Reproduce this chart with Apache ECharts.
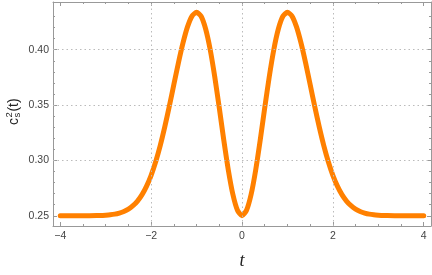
<!DOCTYPE html>
<html>
<head>
<meta charset="utf-8">
<script src="https://cdn.jsdelivr.net/npm/echarts@6/dist/echarts.min.js"></script>
<style>
html,body{margin:0;padding:0;background:#fff;}
#chart{width:432px;height:275px;}
</style>
</head>
<body>
<div id="chart"></div>
<script>
// ---- data ----
var tValues = [-4, -3.5, -3.2, -3.0, -2.9, -2.8, -2.7, -2.6, -2.5, -2.4, -2.3, -2.2, -2.1, -2.0,
  -1.9, -1.8, -1.7, -1.6, -1.5, -1.4, -1.3, -1.2, -1.1, -1.0, -0.9, -0.8, -0.7, -0.6, -0.5,
  -0.4, -0.3, -0.2, -0.1, 0, 0.1, 0.2, 0.3, 0.4, 0.5, 0.6, 0.7, 0.8, 0.9, 1.0, 1.1, 1.2, 1.3,
  1.4, 1.5, 1.6, 1.7, 1.8, 1.9, 2.0, 2.1, 2.2, 2.3, 2.4, 2.5, 2.6, 2.7, 2.8, 2.9, 3.0, 3.2, 3.5, 4];
var csValues = [0.2500, 0.2500, 0.2502, 0.2506, 0.2509, 0.2515, 0.2525, 0.2539, 0.2560, 0.2591,
  0.2633, 0.2691, 0.2768, 0.2866, 0.2988, 0.3134, 0.3303, 0.3489, 0.3686, 0.3881, 0.4059,
  0.4206, 0.4304, 0.4339, 0.4302, 0.4187, 0.4001, 0.3756, 0.3474, 0.3182, 0.2911, 0.2692,
  0.2550, 0.2500, 0.2550, 0.2692, 0.2911, 0.3182, 0.3474, 0.3756, 0.4001, 0.4187, 0.4302,
  0.4339, 0.4304, 0.4206, 0.4059, 0.3881, 0.3686, 0.3489, 0.3303, 0.3134, 0.2988, 0.2866,
  0.2768, 0.2691, 0.2633, 0.2591, 0.2560, 0.2539, 0.2525, 0.2515, 0.2509, 0.2506, 0.2502,
  0.2500, 0.2500];
var xTicks = [-4, -2, 0, 2, 4];
var xMinorTicks = [-3.5, -3, -2.5, -1.5, -1, -0.5, 0.5, 1, 1.5, 2.5, 3, 3.5];
var yTicks = [0.25, 0.30, 0.35, 0.40];
var yMinorTicks = [0.26, 0.27, 0.28, 0.29, 0.31, 0.32, 0.33, 0.34, 0.36, 0.37, 0.38, 0.39, 0.41, 0.42, 0.43];
var xGrid = [-2, 0, 2];
var yGrid = [0.30, 0.35, 0.40];
var xName = 't';

// ---- chart ----
var X_MIN = -4.16, X_MAX = 4.16, Y_MIN = 0.2408, Y_MAX = 0.4431;
var frameColor = '#999999';
var labelColor = '#444444';
var curveColor = '#ff8000';
var fontSans = 'Liberation Sans, Arial, sans-serif';

function fmtNum(v, d) {
  var s = Math.abs(v).toFixed(d);
  return (v < -1e-9 ? '\u2212' : '') + s;
}

function xAx(pos, vals, len, withLabels, withLine, extra) {
  var a = {
    type: 'value', position: pos, min: X_MIN, max: X_MAX, gridIndex: 0,
    axisLine: {show: withLine, onZero: false, lineStyle: {color: frameColor, width: 1}},
    axisTick: {show: true, inside: true, length: len, customValues: vals, lineStyle: {color: frameColor, width: 1}},
    axisLabel: withLabels ? {show: true, customValues: vals, margin: 5, color: labelColor, fontSize: 10.5, fontFamily: fontSans,
      formatter: function (v) { return fmtNum(v, 0); }} : {show: false},
    splitLine: {show: false}
  };
  if (extra) for (var k in extra) a[k] = extra[k];
  return a;
}
function yAx(pos, vals, len, withLabels, withLine) {
  return {
    type: 'value', position: pos, min: Y_MIN, max: Y_MAX, gridIndex: 0,
    axisLine: {show: withLine, onZero: false, lineStyle: {color: frameColor, width: 1}},
    axisTick: {show: true, inside: true, length: len, customValues: vals, lineStyle: {color: frameColor, width: 1}},
    axisLabel: withLabels ? {show: true, customValues: vals, margin: 4, color: labelColor, fontSize: 10.5, fontFamily: fontSans,
      formatter: function (v) { return fmtNum(v, 2); }} : {show: false},
    splitLine: {show: false}
  };
}

var chart = echarts.init(document.getElementById('chart'), null, {renderer: 'canvas'});
var curveData = tValues.map(function (t, i) { return [t, csValues[i]]; });
var gridLines = xGrid.map(function (v) { return {xAxis: v}; })
  .concat(yGrid.map(function (v) { return {yAxis: v}; }));

chart.setOption({
  animation: false,
  backgroundColor: '#ffffff',
  grid: {left: 53, right: 1, top: 2, bottom: 42, containLabel: false},
  xAxis: [
    xAx('bottom', xTicks, 4, true, true, {
      name: xName, nameLocation: 'middle', nameGap: 26,
      nameTextStyle: {fontFamily: 'Liberation Serif, Times New Roman, serif', fontStyle: 'italic', fontSize: 18, color: '#222'}
    }),
    xAx('bottom', xMinorTicks, 2, false, false),
    xAx('top', xTicks, 4, false, true),
    xAx('top', xMinorTicks, 2, false, false)
  ],
  yAxis: [
    yAx('left', yTicks, 4, true, true),
    yAx('left', yMinorTicks, 2, false, false),
    yAx('right', yTicks, 4, false, true),
    yAx('right', yMinorTicks, 2, false, false)
  ],
  series: [
    {
      type: 'line', xAxisIndex: 0, yAxisIndex: 0, data: [], z: 1, silent: true,
      markLine: {
        silent: true, symbol: 'none', animation: false,
        label: {show: false},
        lineStyle: {color: '#bbbbbb', width: 1, type: [1.5, 3]},
        data: gridLines
      }
    },
    {
      type: 'line', xAxisIndex: 0, yAxisIndex: 0, data: curveData, z: 3,
      showSymbol: false, smooth: 0.2,
      lineStyle: {color: curveColor, width: 5, cap: 'round', join: 'round'},
      itemStyle: {color: curveColor}
    }
  ],
  graphic: [
    {
      type: 'group', x: 18, y: 125, rotation: Math.PI / 2,
      children: [
        {type: 'text', x: 0, y: 2.8, style: {text: 'c', fontSize: 14, fontFamily: fontSans, fill: '#222', align: 'left', verticalAlign: 'bottom'}},
        {type: 'text', x: 7.4, y: -4, style: {text: '2', fontSize: 9.5, fontFamily: fontSans, fill: '#222', align: 'left', verticalAlign: 'bottom'}},
        {type: 'text', x: 7.4, y: 4.8, style: {text: 's', fontSize: 9.5, fontFamily: fontSans, fill: '#222', align: 'left', verticalAlign: 'bottom'}},
        {type: 'text', x: 13.4, y: 2.8, style: {text: '(t)', fontSize: 14, fontFamily: fontSans, fill: '#222', align: 'left', verticalAlign: 'bottom'}}
      ]
    }
  ]
});
</script>
</body>
</html>
